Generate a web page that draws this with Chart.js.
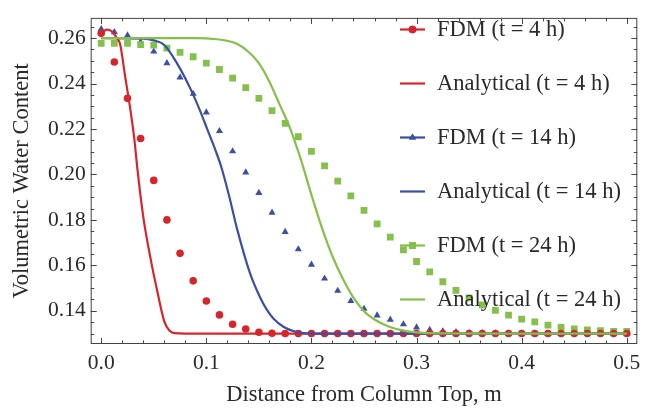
<!DOCTYPE html>
<html>
<head>
<meta charset="utf-8">
<script src="https://cdn.jsdelivr.net/npm/chart.js@4.4.0/dist/chart.umd.min.js"></script>
<style>
    html, body { margin: 0; padding: 0; background: #fff; }
    #wrap { width: 654px; height: 412px; }
</style>
</head>
<body>
<div id="wrap"><canvas id="chartWaterContent"></canvas></div>
<script>
// FDM grid, distance from column top (m)
const fdmX = [0, 0.0125, 0.025, 0.0375, 0.05, 0.0625, 0.075, 0.0875, 0.1, 0.1125,
    0.125, 0.1375, 0.15, 0.1625, 0.175, 0.1875, 0.2, 0.2125, 0.225, 0.2375,
    0.25, 0.2625, 0.275, 0.2875, 0.3, 0.3125, 0.325, 0.3375, 0.35, 0.3625,
    0.375, 0.3875, 0.4, 0.4125, 0.425, 0.4375, 0.45, 0.4625, 0.475, 0.4875, 0.5];

const fdm4h = [0.2621, 0.2495, 0.2335, 0.2158, 0.1974, 0.1800, 0.1653, 0.1532, 0.1443, 0.1382,
    0.1341, 0.1320, 0.1306, 0.1301, 0.1300, 0.1300, 0.1300, 0.1300, 0.1300, 0.1300,
    0.1300, 0.1300, 0.1300, 0.1300, 0.1300, 0.1300, 0.1300, 0.1300, 0.1300, 0.1300,
    0.1300, 0.1300, 0.1300, 0.1300, 0.1300, 0.1300, 0.1300, 0.1300, 0.1300, 0.1300, 0.1300];

const fdm14h = [0.2640, 0.2626, 0.2612, 0.2583, 0.2541, 0.2490, 0.2427, 0.2355, 0.2273, 0.2191,
    0.2102, 0.2009, 0.1919, 0.1832, 0.1747, 0.1671, 0.1603, 0.1542, 0.1488, 0.1443,
    0.1409, 0.1380, 0.1361, 0.1341, 0.1327, 0.1316, 0.1310, 0.1306, 0.1303, 0.1302,
    0.1301, 0.1300, 0.1300, 0.1300, 0.1300, 0.1300, 0.1300, 0.1300, 0.1300, 0.1300, 0.1300];

const fdm24h = [0.2577, 0.2577, 0.2577, 0.2571, 0.2569, 0.2556, 0.2537, 0.2518, 0.2490, 0.2462,
    0.2424, 0.2382, 0.2335, 0.2281, 0.2225, 0.2166, 0.2102, 0.2038, 0.1971, 0.1906,
    0.1842, 0.1783, 0.1724, 0.1668, 0.1617, 0.1571, 0.1528, 0.1490, 0.1457, 0.1426,
    0.1402, 0.1381, 0.1363, 0.1351, 0.1337, 0.1327, 0.1320, 0.1316, 0.1313, 0.1310, 0.1309];

// analytical curves
const anaX4 = [0, 0.005, 0.01, 0.015, 0.018, 0.0228, 0.0276, 0.0317, 0.0345, 0.0402,
    0.0472, 0.0535, 0.0599, 0.065, 0.07, 0.08, 0.1, 0.2, 0.3, 0.4, 0.5];
const ana4h = [0.2615, 0.2637, 0.2630, 0.2600, 0.2573, 0.2431, 0.2290, 0.2148, 0.2021, 0.1808,
    0.1624, 0.1483, 0.1355, 0.1312, 0.1302, 0.1300, 0.1300, 0.1300, 0.1300, 0.1300, 0.1300];

const anaX14 = [0, 0.04, 0.05, 0.06, 0.072, 0.0846, 0.0941, 0.1004, 0.1084, 0.1141,
    0.122, 0.129, 0.1416, 0.1511, 0.1575, 0.164, 0.1733, 0.185, 0.2, 0.3, 0.4, 0.5];
const ana14h = [0.2600, 0.2598, 0.2590, 0.2570, 0.2490, 0.2380, 0.2280, 0.2205, 0.2110, 0.2035,
    0.1900, 0.1765, 0.1565, 0.1460, 0.1405, 0.1365, 0.1330, 0.1308, 0.1300, 0.1300, 0.1300, 0.1300];

const anaX24 = [0, 0.09, 0.11, 0.12, 0.13, 0.14, 0.15, 0.16, 0.17, 0.18,
    0.19, 0.2, 0.21, 0.22, 0.23, 0.24, 0.25, 0.26, 0.27, 0.28,
    0.29, 0.3, 0.32, 0.4, 0.5];
const ana24h = [0.2600, 0.2600, 0.2595, 0.2588, 0.2573, 0.2540, 0.2490, 0.2408, 0.2305, 0.2200,
    0.2065, 0.1910, 0.1765, 0.1640, 0.1540, 0.1458, 0.1398, 0.1362, 0.1338, 0.1321,
    0.1311, 0.1305, 0.1301, 0.1300, 0.1300];

const xTickValues = [0, 0.1, 0.2, 0.3, 0.4, 0.5];
const yTickValues = [0.14, 0.16, 0.18, 0.20, 0.22, 0.24, 0.26];

const RED = '#d7262b';
const BLUE = '#3c4fa3';
const GREEN = '#84c04a';
const TEXT = '#2a2a2a';
const FONT = 'Liberation Serif';

function toPoints(xs, ys) {
    return xs.map((x, i) => ({ x: x, y: ys[i] }));
}

function fdmSet(label, ys, color, style, radius, order) {
    return {
        label: label,
        data: toPoints(fdmX, ys),
        showLine: false,
        pointStyle: style,
        pointRadius: radius,
        pointHoverRadius: radius,
        pointBorderWidth: 0,
        backgroundColor: color,
        borderColor: color,
        order: order
    };
}

function lineSet(label, xs, ys, color, order) {
    return {
        label: label,
        data: toPoints(xs, ys),
        showLine: true,
        pointRadius: 0,
        borderWidth: 2.2,
        borderColor: color,
        backgroundColor: color,
        cubicInterpolationMode: 'monotone',
        order: order
    };
}

// inward frame ticks on all four sides + legend inside the plot
const frameAndLegend = {
    id: 'frameAndLegend',
    afterDraw(chart) {
        const ctx = chart.ctx;
        const area = chart.chartArea;
        const xs = chart.scales.x;
        const ys = chart.scales.y;

        ctx.save();
        ctx.strokeStyle = '#444';
        ctx.lineWidth = 1;
        ctx.strokeRect(area.left + 0.5, area.top + 0.5, area.right - area.left - 1, area.bottom - area.top - 1);

        ctx.beginPath();
        for (let k = 0; k <= 25; k++) {
            const px = Math.round(xs.getPixelForValue(k * 0.02)) + 0.5;
            const len = k % 5 === 0 ? 6 : 3.5;
            ctx.moveTo(px, area.bottom);
            ctx.lineTo(px, area.bottom - len);
            ctx.moveTo(px, area.top);
            ctx.lineTo(px, area.top + len);
        }
        for (let k = 26; k <= 53; k++) {
            const py = Math.round(ys.getPixelForValue(k * 0.005)) + 0.5;
            const len = k % 4 === 0 ? 6 : 3.5;
            ctx.moveTo(area.left, py);
            ctx.lineTo(area.left + len, py);
            ctx.moveTo(area.right, py);
            ctx.lineTo(area.right - len, py);
        }
        ctx.stroke();

        // legend
        const firstY = 29.5;
        const stepY = 54;
        ctx.font = '22.5px "' + FONT + '"';
        ctx.textBaseline = 'middle';
        ctx.textAlign = 'left';
        chart.data.datasets.forEach((ds, i) => {
            const y = firstY + i * stepY;
            ctx.strokeStyle = ds.borderColor;
            ctx.lineWidth = 2.2;
            ctx.beginPath();
            ctx.moveTo(400, y);
            ctx.lineTo(425, y);
            ctx.stroke();
            if (!ds.showLine) {
                ctx.fillStyle = ds.backgroundColor;
                Chart.helpers.drawPoint(ctx, {
                    pointStyle: ds.pointStyle,
                    radius: ds.pointRadius,
                    borderWidth: 0,
                    rotation: 0
                }, 412.5, y);
                ctx.fill();
            }
            ctx.fillStyle = TEXT;
            ctx.fillText(ds.label, 437, y + 0.5);
        });
        ctx.restore();
    }
};

function initWaterChart() {
    const canvas = document.getElementById('chartWaterContent');
    new Chart(canvas, {
        type: 'scatter',
        data: {
            datasets: [
                fdmSet('FDM (t = 4 h)', fdm4h, RED, 'circle', 3.8, 4),
                lineSet('Analytical (t = 4 h)', anaX4, ana4h, RED, 3),
                fdmSet('FDM (t = 14 h)', fdm14h, BLUE, 'triangle', 4.1, 6),
                lineSet('Analytical (t = 14 h)', anaX14, ana14h, BLUE, 2),
                fdmSet('FDM (t = 24 h)', fdm24h, GREEN, 'rect', 4.8, 5),
                lineSet('Analytical (t = 24 h)', anaX24, ana24h, GREEN, 1)
            ]
        },
        options: {
            responsive: true,
            maintainAspectRatio: false,
            animation: false,
            layout: { padding: { top: 6, right: 16.7, left: 0, bottom: 0 } },
            plugins: {
                legend: { display: false },
                tooltip: { enabled: false }
            },
            scales: {
                x: {
                    type: 'linear',
                    min: -0.01,
                    max: 0.51,
                    grid: { display: false, drawTicks: false },
                    border: { display: false },
                    afterBuildTicks: s => { s.ticks = xTickValues.map(v => ({ value: v })); },
                    afterFit: s => { s.height = 68; },
                    ticks: {
                        padding: 6,
                        color: TEXT,
                        font: { family: FONT, size: 21.5 },
                        maxRotation: 0,
                        callback: v => v.toFixed(1)
                    },
                    title: {
                        display: true,
                        text: 'Distance from Column Top, m',
                        color: TEXT,
                        font: { family: FONT, size: 22.5 },
                        padding: { top: 0, bottom: 3 }
                    }
                },
                y: {
                    type: 'linear',
                    min: 0.1254,
                    max: 0.2689,
                    grid: { display: false, drawTicks: false },
                    border: { display: false },
                    afterBuildTicks: s => { s.ticks = yTickValues.map(v => ({ value: v })); },
                    afterFit: s => { s.width = 90.7; },
                    ticks: {
                        padding: 5,
                        color: TEXT,
                        font: { family: FONT, size: 21.5 },
                        callback: v => v.toFixed(2)
                    },
                    title: {
                        display: true,
                        text: 'Volumetric Water Content',
                        color: TEXT,
                        font: { family: FONT, size: 22.5 },
                        padding: { top: 9, bottom: 0 }
                    }
                }
            }
        },
        plugins: [frameAndLegend]
    });
}

window.addEventListener('load', initWaterChart);
</script>
</body>
</html>
